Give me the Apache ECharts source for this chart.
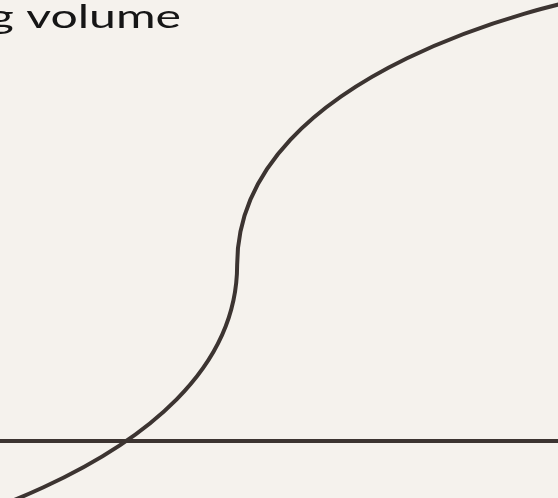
<!DOCTYPE html>
<html>
<head>
<meta charset="utf-8">
<title>Trading volume</title>
<script src="https://cdn.jsdelivr.net/npm/echarts@6/dist/echarts.min.js"></script>
<style>
  html, body { margin: 0; padding: 0; background: #f5f2ed; }
  #chart { width: 558px; height: 498px; }
</style>
</head>
<body>
<div id="chart"></div>
<script>
// Volume curve: start, turning point and end of the S-shaped growth
const titleText = 'Trading volume';
const timeValues = [-26.9, 42.5, 103.4];
const volumeValues = [-24.7, 39.9, 99.9];

const curve = timeValues.map((t, i) => [t, volumeValues[i]]);

const ink = '#3c3431';
const chart = echarts.init(document.getElementById('chart'), null, { renderer: 'canvas' });

chart.setOption({
  backgroundColor: '#f5f2ed',
  animation: false,
  grid: { left: 0, right: 0, top: 0, bottom: 0, containLabel: false },
  xAxis: {
    type: 'value',
    min: 0,
    max: 100,
    axisLine: { show: true, onZero: true, lineStyle: { color: ink, width: 4 } },
    axisTick: { show: false },
    axisLabel: { show: false },
    splitLine: { show: false }
  },
  yAxis: {
    type: 'value',
    min: -13,
    max: 100,
    axisLine: { show: false },
    axisTick: { show: false },
    axisLabel: { show: false },
    splitLine: { show: false }
  },
  graphic: [{
    type: 'text',
    x: 181,
    y: 34,
    scaleX: 1.46,
    style: {
      text: titleText,
      fill: '#161616',
      font: '400 33px Lato',
      textAlign: 'right',
      textVerticalAlign: 'bottom'
    }
  }],
  series: [{
    type: 'line',
    data: curve,
    smooth: 0.75,
    smoothMonotone: 'y',
    symbol: 'none',
    clip: true,
    lineStyle: { color: ink, width: 4 }
  }]
});
</script>
</body>
</html>
